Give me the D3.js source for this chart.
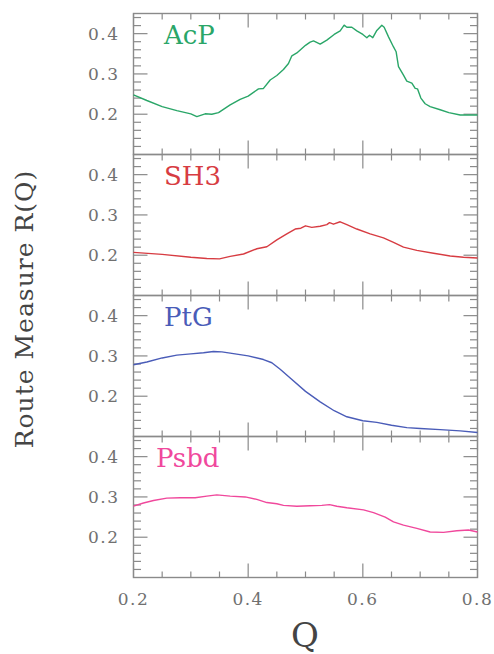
<!DOCTYPE html>
<html>
<head>
<meta charset="utf-8">
<script src="https://cdn.jsdelivr.net/npm/d3@7"></script>
<style>
  body { margin: 0; background: #fff; }
  svg text { font-family: "DejaVu Serif", serif; }
</style>
</head>
<body>
<div id="chart"></div>
<script>
// protein names, one per panel (top to bottom)
const panelNames = ["AcP", "SH3", "PtG", "Psbd"];

// AcP
const acpQ = [0.200, 0.2233, 0.250, 0.2756, 0.300, 0.3105, 0.325, 0.3366, 0.3483, 0.3686, 0.386, 0.400,
  0.418, 0.4267, 0.4384, 0.450, 0.4616, 0.4703, 0.4762, 0.4849, 0.500, 0.5081, 0.514, 0.5256, 0.5372,
  0.550, 0.5605, 0.5674, 0.5721, 0.5808, 0.5895, 0.600, 0.607, 0.6116, 0.6174, 0.6244, 0.6331, 0.6372,
  0.6448, 0.6535, 0.6581, 0.6622, 0.6709, 0.6767, 0.6855, 0.6913, 0.6953, 0.7012, 0.7087, 0.7174,
  0.7349, 0.750, 0.7698, 0.800];
const acpR = [0.248, 0.234, 0.219, 0.209, 0.201, 0.194, 0.201, 0.200, 0.204, 0.223, 0.237, 0.245,
  0.263, 0.264, 0.285, 0.296, 0.311, 0.326, 0.345, 0.352, 0.371, 0.379, 0.382, 0.374, 0.384,
  0.398, 0.407, 0.421, 0.416, 0.416, 0.407, 0.398, 0.390, 0.396, 0.390, 0.408, 0.421, 0.416,
  0.392, 0.367, 0.355, 0.318, 0.297, 0.282, 0.277, 0.264, 0.263, 0.240, 0.226, 0.219,
  0.211, 0.204, 0.198, 0.198];

// SH3
const sh3Q = [0.200, 0.250, 0.300, 0.3279, 0.350, 0.3686, 0.3919, 0.4151, 0.4326, 0.450, 0.4674, 0.482,
  0.4919, 0.500, 0.511, 0.5256, 0.5372, 0.5419, 0.5488, 0.5605, 0.5721, 0.5895, 0.6128, 0.636,
  0.6535, 0.6709, 0.6942, 0.7233, 0.7523, 0.7756, 0.800];
const sh3R = [0.207, 0.202, 0.195, 0.192, 0.191, 0.197, 0.203, 0.216, 0.221, 0.238, 0.253, 0.265,
  0.267, 0.273, 0.269, 0.272, 0.276, 0.281, 0.277, 0.283, 0.276, 0.265, 0.253, 0.243,
  0.232, 0.220, 0.212, 0.205, 0.198, 0.195, 0.193];

// PtG
const ptgQ = [0.200, 0.2233, 0.250, 0.2756, 0.300, 0.3221, 0.3395, 0.3541, 0.3686, 0.400, 0.4267, 0.4413,
  0.4558, 0.4733, 0.500, 0.5256, 0.550, 0.5721, 0.600, 0.6244, 0.650, 0.6767, 0.700, 0.7349, 0.7698, 0.800];
const ptgR = [0.278, 0.285, 0.295, 0.302, 0.305, 0.308, 0.311, 0.310, 0.307, 0.300, 0.291, 0.283,
  0.267, 0.245, 0.212, 0.186, 0.164, 0.149, 0.139, 0.135, 0.128, 0.122, 0.120, 0.117, 0.114, 0.110];

// Psbd
const psbdQ = [0.200, 0.2174, 0.2349, 0.2581, 0.2814, 0.3076, 0.3279, 0.3453, 0.3686, 0.3948, 0.4151, 0.4326,
  0.450, 0.4616, 0.4849, 0.5081, 0.5285, 0.5419, 0.5547, 0.5721, 0.6012, 0.6186, 0.639, 0.6535,
  0.6709, 0.6942, 0.7174, 0.7407, 0.764, 0.7843, 0.800];
const psbdR = [0.277, 0.285, 0.291, 0.297, 0.298, 0.298, 0.302, 0.305, 0.302, 0.300, 0.294, 0.286,
  0.283, 0.279, 0.277, 0.278, 0.279, 0.281, 0.277, 0.273, 0.268, 0.261, 0.250, 0.238,
  0.230, 0.222, 0.213, 0.212, 0.216, 0.218, 0.213];

const seriesQ = [acpQ, sh3Q, ptgQ, psbdQ];
const seriesR = [acpR, sh3R, ptgR, psbdR];

// axis ticks
const xTicksMajor = [0.2, 0.4, 0.6, 0.8];
const xTicksMinor = [0.25, 0.3, 0.35, 0.45, 0.5, 0.55, 0.65, 0.7, 0.75];
const yTicksMajor = [0.2, 0.3, 0.4];
const yTicksMinor = [0.12, 0.14, 0.16, 0.18, 0.22, 0.24, 0.26, 0.28, 0.32, 0.34, 0.36, 0.38, 0.42, 0.44];

const panelColors = ["#2aa668", "#d73c42", "#4a5cb8", "#f0489c"];
const frameColor = "#8a8a8a";
const labelColor = "#707070";

const W = 494, H = 654;
const plotLeft = 133.5, plotRight = 477.5;
const plotTop = 13.5, panelH = 141;
const majorLen = 14, minorLen = 7.5;

const svg = d3.select("#chart").append("svg")
  .attr("width", W).attr("height", H);

const x = d3.scaleLinear().domain([0.2, 0.8]).range([plotLeft, plotRight]);
const y = d3.scaleLinear().domain([0.1, 0.45]).range([panelH, 0]);

const line = d3.line().x(d => x(d[0])).y(d => y(d[1]));

// inward tick marks on all four sides of a panel
function drawTicks(g){
  const yt = yTicksMinor.map(v => ({v, len: minorLen})).concat(yTicksMajor.map(v => ({v, len: majorLen})));
  const xt = xTicksMinor.map(v => ({v, len: 6})).concat(xTicksMajor.map(v => ({v, len: majorLen})));
  const tg = g.append("g").attr("stroke", frameColor).attr("stroke-width", 1.2);

  tg.selectAll("line.yl").data(yt).join("line").attr("class", "yl")
    .attr("x1", plotLeft).attr("x2", d => plotLeft + d.len)
    .attr("y1", d => y(d.v)).attr("y2", d => y(d.v));
  tg.selectAll("line.yr").data(yt).join("line").attr("class", "yr")
    .attr("x1", plotRight).attr("x2", d => plotRight - d.len)
    .attr("y1", d => y(d.v)).attr("y2", d => y(d.v));
  tg.selectAll("line.xt").data(xt).join("line").attr("class", "xt")
    .attr("x1", d => x(d.v)).attr("x2", d => x(d.v))
    .attr("y1", 0).attr("y2", d => d.len);
  tg.selectAll("line.xb").data(xt).join("line").attr("class", "xb")
    .attr("x1", d => x(d.v)).attr("x2", d => x(d.v))
    .attr("y1", panelH).attr("y2", d => panelH - d.len);
}

panelNames.forEach((name, i) => {
  const g = svg.append("g").attr("transform", `translate(0,${plotTop + i * panelH})`);

  drawTicks(g);

  // y tick labels
  g.selectAll("text.ylab").data(yTicksMajor).join("text")
    .attr("class", "ylab")
    .attr("x", plotLeft - 14).attr("y", d => y(d))
    .attr("dy", "0.36em")
    .attr("text-anchor", "end")
    .attr("font-size", 17).attr("fill", labelColor)
    .style("letter-spacing", "1.5px")
    .text(d3.format(".1f"));

  // frame
  g.append("rect")
    .attr("x", plotLeft).attr("y", 0)
    .attr("width", plotRight - plotLeft).attr("height", panelH)
    .attr("fill", "none").attr("stroke", frameColor).attr("stroke-width", 1.4);

  // curve
  const pts = seriesQ[i].map((q, k) => [q, seriesR[i][k]]);
  g.append("path").datum(pts)
    .attr("d", line)
    .attr("fill", "none")
    .attr("stroke", panelColors[i])
    .attr("stroke-width", 1.4)
    .attr("stroke-linejoin", "round");

  // protein label
  g.append("text")
    .attr("x", name === "Psbd" ? 156 : 164)
    .attr("y", 30.5)
    .attr("font-size", 26)
    .attr("fill", panelColors[i])
    .text(name);
});

// x tick labels under the last panel
const bottomY = plotTop + panelNames.length * panelH;
svg.selectAll("text.xlab").data(xTicksMajor).join("text")
  .attr("class", "xlab")
  .attr("x", d => x(d)).attr("y", bottomY + 27.5)
  .attr("text-anchor", "middle")
  .attr("font-size", 17).attr("fill", labelColor)
  .style("letter-spacing", "1.5px")
  .text(d3.format(".1f"));

// axis titles
svg.append("text")
  .attr("transform", `translate(33,309) rotate(-90)`)
  .attr("text-anchor", "middle")
  .attr("font-size", 25)
  .attr("fill", "#444")
  .style("letter-spacing", "1px")
  .text("Route Measure R(Q)");

svg.append("text")
  .attr("x", 305).attr("y", 647)
  .attr("text-anchor", "middle")
  .attr("font-size", 34)
  .attr("fill", "#444")
  .text("Q");
</script>
</body>
</html>
